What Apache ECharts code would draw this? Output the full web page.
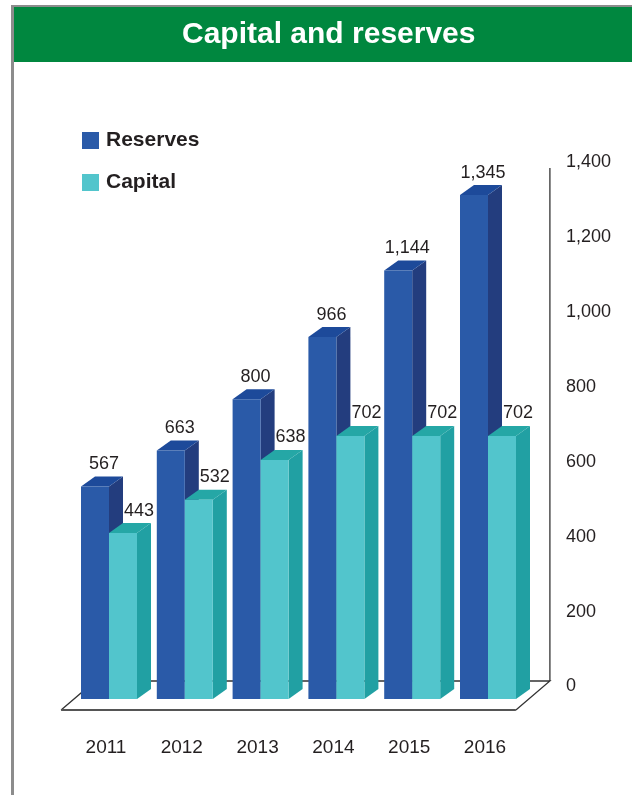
<!DOCTYPE html>
<html>
<head>
<meta charset="utf-8">
<script src="https://cdn.jsdelivr.net/npm/echarts@6/dist/echarts.min.js"></script>
<style>
  html, body { margin: 0; padding: 0; background: #ffffff; }
  #chart { width: 632px; height: 795px; }
</style>
</head>
<body>
<div id="chart"></div>
<script>
// Data
const years = ['2011', '2012', '2013', '2014', '2015', '2016'];
const reserves = [567, 663, 800, 966, 1144, 1345];
const capital = [443, 532, 638, 702, 702, 702];
const axisMin = 0;
const axisMax = 1400;
const axisStep = 200;

// Look of the pseudo-3D columns
const FONT = "'Liberation Sans', Arial, sans-serif";
const TEXT = '#231f20';
const BAR_W = 28;         // width of a front face
const DEPTH_X = 14;       // column depth, horizontal part
const DEPTH_Y = 10;       // column depth, vertical part
const FRONT_DROP = 12.5;  // front faces sit below the axis zero line
const BACK_RISE = 5.5;    // back edge of the floor sits above the axis zero line
const FLOOR_DX = 34;      // floor depth
const FLOOR_DY = 29;

const palette = {
  Reserves: { front: '#2a5aa8', side: '#233d7e', top: '#1d4a9a', labelDx: 9 },
  Capital:  { front: '#52c5cc', side: '#21a0a3', top: '#25a7a6', labelDx: 16 }
};

const fmt = v => v.toLocaleString('en-US');

function columnRenderer(name, leftOfCentre) {
  const c = palette[name];
  return function (params, api) {
    const idx = api.value(0);
    const v = api.value(1);
    const base = api.coord([idx, 0]);
    const top = api.coord([idx, v]);
    const x0 = leftOfCentre ? base[0] - BAR_W : base[0];
    const x1 = x0 + BAR_W;
    const yb = base[1] + FRONT_DROP;
    const yt = top[1] + FRONT_DROP;
    return {
      type: 'group',
      children: [
        {
          type: 'polygon',
          shape: { points: [[x1, yb], [x1 + DEPTH_X, yb - DEPTH_Y], [x1 + DEPTH_X, yt - DEPTH_Y], [x1, yt]] },
          style: { fill: c.side }
        },
        {
          type: 'polygon',
          shape: { points: [[x0, yt], [x0 + DEPTH_X, yt - DEPTH_Y], [x1 + DEPTH_X, yt - DEPTH_Y], [x1, yt]] },
          style: { fill: c.top }
        },
        {
          type: 'rect',
          shape: { x: x0, y: yt, width: BAR_W, height: yb - yt },
          style: { fill: c.front }
        },
        {
          type: 'text',
          style: {
            x: x0 + BAR_W / 2 + c.labelDx,
            y: yt - 22.5,
            text: fmt(v),
            align: 'center',
            verticalAlign: 'middle',
            fontFamily: FONT,
            fontSize: 18,
            fill: TEXT
          }
        }
      ]
    };
  };
}

// Floor outline and back wall line of the 3D frame
function floorRenderer(params, api) {
  const band = api.size([1, 0])[0];
  const first = api.coord([0, axisMin]);
  const last = api.coord([years.length - 1, axisMin]);
  const topPt = api.coord([0, axisMax]);
  const gl = first[0] - band / 2;
  const gr = last[0] + band / 2;
  const yBack = first[1] - BACK_RISE;
  const fl = gl - 10, fr = gr - 10, fy = yBack + FLOOR_DY;
  const bl = fl + FLOOR_DX, br = fr + FLOOR_DX;
  const lineStyle = { stroke: '#333333', lineWidth: 1.3, fill: null };
  return {
    type: 'group',
    children: [
      { type: 'polyline', shape: { points: [[fl, fy], [bl, yBack], [br, yBack], [fr, fy]] }, style: lineStyle },
      { type: 'line', shape: { x1: fl, y1: fy, x2: fr, y2: fy }, style: { stroke: '#555555', lineWidth: 2 } },
      { type: 'line', shape: { x1: br, y1: yBack, x2: br, y2: topPt[1] + 6 }, style: lineStyle }
    ]
  };
}

const legendText = {
  color: TEXT,
  fontFamily: FONT,
  fontWeight: 'bold',
  fontSize: 21,
  padding: [0, 0, 0, 2]
};

const chart = echarts.init(document.getElementById('chart'), null, { renderer: 'canvas' });

chart.setOption({
  backgroundColor: '#ffffff',
  animation: false,
  graphic: [
    { type: 'rect', shape: { x: 11, y: 5, width: 621, height: 2 }, style: { fill: '#8c8c8c' }, silent: true },
    { type: 'rect', shape: { x: 11, y: 5, width: 3, height: 790 }, style: { fill: '#8c8c8c' }, silent: true },
    { type: 'rect', shape: { x: 14, y: 7, width: 618, height: 55 }, style: { fill: '#00873f' }, silent: true }
  ],
  title: {
    text: 'Capital and reserves',
    left: 182,
    top: 20,
    padding: 0,
    textStyle: {
      color: '#ffffff',
      fontFamily: FONT,
      fontWeight: 'bold',
      fontSize: 30,
      lineHeight: 30
    }
  },
  legend: [
    {
      data: ['Reserves'],
      left: 82,
      top: 130,
      padding: 0,
      itemWidth: 17,
      itemHeight: 17,
      icon: 'rect',
      selectedMode: false,
      textStyle: legendText
    },
    {
      data: ['Capital'],
      left: 82,
      top: 172,
      padding: 0,
      itemWidth: 17,
      itemHeight: 17,
      icon: 'rect',
      selectedMode: false,
      textStyle: legendText
    }
  ],
  grid: {
    left: 71.1,
    right: 106.1,
    top: 162,
    bottom: 108.5,
    containLabel: false
  },
  xAxis: {
    type: 'category',
    data: years,
    axisLine: { show: false },
    axisTick: { show: false },
    axisLabel: {
      margin: 61,
      verticalAlign: 'middle',
      color: TEXT,
      fontFamily: FONT,
      fontSize: 19,
      padding: [0, 6, 0, 0]
    }
  },
  yAxis: {
    type: 'value',
    position: 'right',
    offset: 24,
    min: axisMin,
    max: axisMax,
    interval: axisStep,
    splitLine: { show: false },
    axisLine: { show: false },
    axisTick: { show: false },
    axisLabel: {
      margin: 16,
      color: TEXT,
      fontFamily: FONT,
      fontSize: 18,
      verticalAlign: 'middle',
      formatter: v => fmt(v)
    }
  },
  series: [
    {
      name: 'Floor',
      type: 'custom',
      clip: false,
      silent: true,
      z: 1,
      renderItem: floorRenderer,
      data: [[0, 0]]
    },
    {
      name: 'Reserves',
      type: 'custom',
      clip: false,
      z: 2,
      itemStyle: { color: palette.Reserves.front },
      encode: { x: 0, y: 1 },
      renderItem: columnRenderer('Reserves', true),
      data: reserves.map((v, i) => [i, v])
    },
    {
      name: 'Capital',
      type: 'custom',
      clip: false,
      z: 3,
      itemStyle: { color: palette.Capital.front },
      encode: { x: 0, y: 1 },
      renderItem: columnRenderer('Capital', false),
      data: capital.map((v, i) => [i, v])
    }
  ]
});
</script>
</body>
</html>
